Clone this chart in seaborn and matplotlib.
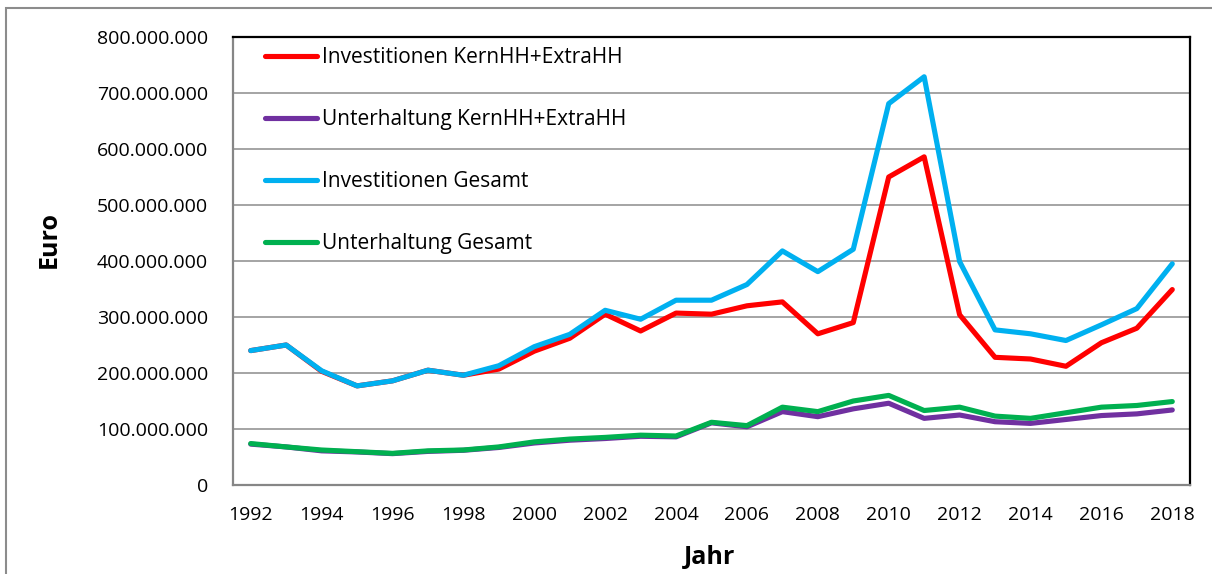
import numpy as np
import pandas as pd
import matplotlib
matplotlib.use("Agg")
import matplotlib.pyplot as plt
import seaborn as sns
from matplotlib.patches import Rectangle

years = list(range(1992, 2019))
inv_kern = [240, 250, 203, 177, 186, 205, 196, 207, 239, 262, 305, 275, 307, 305,
            320, 327, 270, 290, 550, 586, 304, 228, 225, 212, 254, 280, 349]
unt_kern = [73, 68, 61, 59, 56, 60, 62, 67, 75, 80, 83, 87, 86, 111,
            104, 131, 122, 136, 146, 119, 125, 113, 110, 117, 124, 127, 134]
inv_ges = [240, 250, 204, 177, 186, 205, 196, 213, 247, 269, 312, 296, 330, 330,
           358, 418, 381, 421, 681, 729, 399, 277, 270, 258, 286, 315, 395]
unt_ges = [74, 68, 62.5, 59.5, 56.5, 61, 62.5, 68, 77, 82, 85, 89, 87.5, 112,
           106, 139, 131, 150, 160, 133, 139, 123, 119, 129, 139, 142, 149]
series_names = ["Investitionen KernHH+ExtraHH", "Unterhaltung KernHH+ExtraHH",
                "Investitionen Gesamt", "Unterhaltung Gesamt"]
colors = ["#FF0000", "#7030A0", "#00B0F0", "#00B050"]
y_ticks = [0, 100e6, 200e6, 300e6, 400e6, 500e6, 600e6, 700e6, 800e6]

rows = []
for name, vals in zip(series_names, [inv_kern, unt_kern, inv_ges, unt_ges]):
    for i, (yr, v) in enumerate(zip(years, vals)):
        rows.append({"idx": i, "Jahr": yr, "Euro": v * 1e6, "Serie": name})
df = pd.DataFrame(rows)

sns.set_style("white")
plt.rcParams["font.family"] = ["Open Sans", "DejaVu Sans"]
plt.rcParams["text.color"] = "black"

fig = plt.figure(figsize=(12.12, 5.74), dpi=100)
ax = fig.add_axes([233 / 1212, 1 - 485 / 574, (1190 - 233) / 1212, (485 - 37) / 574])

sns.lineplot(data=df, x="idx", y="Euro", hue="Serie", hue_order=series_names,
             palette=colors, linewidth=3.7, sort=False, ax=ax, legend=True)

n = len(years)
ax.set_xlim(-0.5, n - 0.5)
ax.set_ylim(0, 800e6)
ax.set_yticks(y_ticks)
ax.set_yticklabels([f"{int(v):,}".replace(",", ".") for v in y_ticks], fontsize=14)
ax.set_xticks(np.arange(-0.5, n, 1.0))
ax.set_xticklabels([])
ax.set_xticks(np.arange(0, n, 2), minor=True)
ax.set_xticklabels([str(y) for y in years[::2]], minor=True, fontsize=14)
ax.tick_params(axis="x", which="major", length=7, width=1.4, color="#868686", direction="out")
ax.tick_params(axis="x", which="minor", length=0, pad=15, labelcolor="black")
ax.tick_params(axis="y", length=7, width=1.4, color="#868686", pad=11, direction="out",
               labelcolor="black")
ax.yaxis.grid(True, color="#8C8C8C", linewidth=1.1)
ax.xaxis.grid(False)
ax.set_axisbelow(True)
for s in ["left", "bottom"]:
    ax.spines[s].set_color("#868686")
    ax.spines[s].set_linewidth(1.6)
for s in ["top", "right"]:
    ax.spines[s].set_color("#000000")
    ax.spines[s].set_linewidth(1.6)

ax.set_xlabel("")
ax.set_ylabel("")
fig.text(49 / 1212, 1 - 240 / 574, "Euro", rotation=90, ha="center", va="center",
         fontsize=18, fontweight="bold", color="black")
fig.text(710 / 1212, 1 - 557 / 574, "Jahr", ha="center", va="center",
         fontsize=18, fontweight="bold", color="black")

leg = ax.legend(loc="upper left", bbox_to_anchor=((265 - 233) / 957, (485 - 47) / 448),
                frameon=False, fontsize=15, handlelength=2.5, handletextpad=0.25,
                labelspacing=1.97, borderpad=0, borderaxespad=0)
for h in leg.get_lines():
    h.set_linewidth(3.7)
for t in leg.get_texts():
    t.set_color("black")

fig.patches.append(Rectangle((6 / 1212, -0.1), 1.2, 1 - 8 / 574 + 0.1,
                             transform=fig.transFigure, fill=False,
                             edgecolor="#8C8C8C", linewidth=1.5))

fig.savefig("out.png", dpi=100)
